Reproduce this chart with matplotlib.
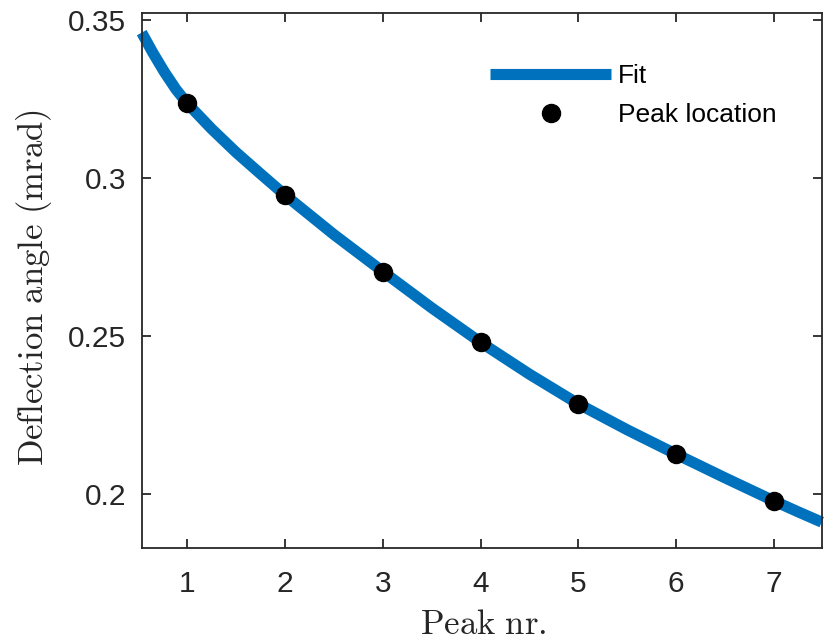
import matplotlib
matplotlib.use("Agg")
import matplotlib.pyplot as plt

plt.rcParams['font.family'] = ['Liberation Sans', 'DejaVu Sans']
plt.rcParams['mathtext.fontset'] = 'cm'

# Measured peak positions
peak_nr = [1, 2, 3, 4, 5, 6, 7]
peak_angle = [0.3236, 0.2946, 0.2704, 0.2480, 0.2285, 0.2126, 0.1978]

# Fitted curve, sampled across the plotted range
fit_x = [0.534, 0.6505, 0.767, 0.8835, 1.0, 1.25, 1.5, 1.75, 2.0, 2.5, 3.0,
         3.5, 4.0, 4.5, 5.0, 5.5, 6.0, 6.5, 7.0, 7.244, 7.488]
fit_y = [0.3460, 0.3395, 0.3335, 0.3281, 0.3236, 0.3155, 0.3081, 0.3013,
         0.2946, 0.2821, 0.2704, 0.2589, 0.2480, 0.2379, 0.2285, 0.2203,
         0.2126, 0.2051, 0.1978, 0.1944, 0.1911]

x_ticks = [1, 2, 3, 4, 5, 6, 7]
y_ticks = [0.2, 0.25, 0.3, 0.35]
y_tick_labels = ['0.2', '0.25', '0.3', '0.35']

W, H = 829, 639
fig = plt.figure(figsize=(W / 100, H / 100), dpi=100)
ax = fig.add_axes([141.7 / W, 1 - 548.3 / H, (821.7 - 141.7) / W, (548.3 - 12.7) / H])

axis_gray = (0.15, 0.15, 0.15)
blue = (0.0, 0.447, 0.741)

ax.plot(fit_x, fit_y, color=blue, lw=8, solid_capstyle='butt',
        solid_joinstyle='round', clip_on=False, label='Fit', zorder=2)
ax.plot(peak_nr, peak_angle, 'o', color='black', ms=13, ls='none',
        label='Peak location', zorder=3)

ax.set_xlim(0.534, 7.488)
ax.set_ylim(0.18282, 0.35231)
ax.set_xticks(x_ticks)
ax.set_yticks(y_ticks)
ax.set_yticklabels(y_tick_labels)

for s in ax.spines.values():
    s.set_color(axis_gray)
    s.set_linewidth(1.3)
ax.tick_params(direction='in', top=True, right=True, length=6.5, width=1.3,
               color=axis_gray, labelcolor=axis_gray, labelsize=21.5)
ax.tick_params(axis='x', pad=15.5)
ax.tick_params(axis='y', pad=11)

fig.text(483 / W, 1 - 624 / H, r'$\mathrm{Peak\ nr.}$', ha='center', va='center',
         fontsize=25, color=axis_gray)
fig.text(34 / W, 1 - 288 / H, r'$\mathrm{Deflection\ angle\ (mrad)}$', ha='center',
         va='center', rotation=90, fontsize=25, color=axis_gray)

leg = ax.legend(loc='upper left', bbox_to_anchor=(490 / W, 1 - 64 / H),
                bbox_transform=fig.transFigure, frameon=False, fontsize=19,
                handlelength=4.6, handletextpad=0.25, borderpad=0,
                borderaxespad=0, labelspacing=0.58, numpoints=1)
for t in leg.get_texts():
    t.set_color('black')

fig.savefig('out.png', dpi=100)
